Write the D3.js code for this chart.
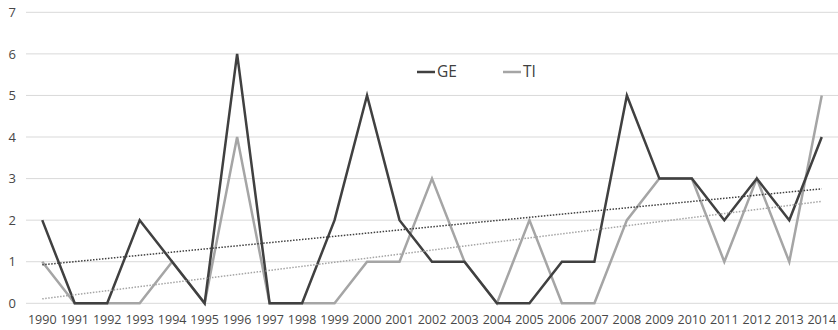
<!DOCTYPE html>
<html>
<head>
<meta charset="utf-8">
<script src="https://cdn.jsdelivr.net/npm/d3@7"></script>
<style>
  html, body { margin: 0; padding: 0; background: #fff; }
  svg { display: block; font-family: "Open Sans", "Noto Sans", sans-serif; }
</style>
</head>
<body>
<div id="chart"></div>
<script>
// Yearly counts for the two series
const years = ["1990","1991","1992","1993","1994","1995","1996","1997","1998","1999","2000","2001","2002",
               "2003","2004","2005","2006","2007","2008","2009","2010","2011","2012","2013","2014"];
const geValues = [2,0,0,2,1,0,6,0,0,2,5,2,1,1,0,0,1,1,5,3,3,2,3,2,4];
const tiValues = [1,0,0,0,1,0,4,0,0,0,1,1,3,1,0,2,0,0,2,3,3,1,3,1,5];
const yTicks = [0,1,2,3,4,5,6,7];

const series = [
  { name: "GE", values: geValues, color: "#404040", trendColor: "#404040" },
  { name: "TI", values: tiValues, color: "#a5a5a5", trendColor: "#a5a5a5" }
];

const W = 838, H = 330;
const plot = { left: 26, right: 838, top: 12.3, bottom: 303.3 };

const svg = d3.select("#chart").append("svg")
  .attr("width", W).attr("height", H);

const x = d3.scaleBand().domain(years).range([plot.left, plot.right]);
const y = d3.scaleLinear().domain([0, 7]).range([plot.bottom, plot.top]);
const cx = d => x(d) + x.bandwidth() / 2;

// Horizontal gridlines
svg.append("g").selectAll("line").data(yTicks).join("line")
  .attr("x1", plot.left).attr("x2", plot.right)
  .attr("y1", d => y(d)).attr("y2", d => y(d))
  .attr("stroke", "#d9d9d9").attr("stroke-width", 1);

// Y axis labels
const yAxis = svg.append("g")
  .attr("transform", `translate(${plot.left},0)`)
  .call(d3.axisLeft(y).tickValues(yTicks).tickSize(0).tickPadding(10).tickFormat(d3.format("d")));
yAxis.select(".domain").remove();
yAxis.selectAll("text").attr("fill", "#474747").style("font-size", "13px")
  .style("font-family", "'Open Sans', sans-serif");

// X axis labels
const xAxis = svg.append("g")
  .attr("transform", `translate(0,${plot.bottom})`)
  .call(d3.axisBottom(x).tickSize(0).tickPadding(12));
xAxis.select(".domain").remove();
xAxis.selectAll("text").attr("fill", "#474747").style("font-size", "12.5px")
  .style("font-family", "'Open Sans', sans-serif");

// Least-squares linear trend per series
function linearFit(vals) {
  const n = vals.length;
  const xs = d3.range(n);
  const mx = d3.mean(xs), my = d3.mean(vals);
  let sxy = 0, sxx = 0;
  xs.forEach((xi, i) => { sxy += (xi - mx) * (vals[i] - my); sxx += (xi - mx) ** 2; });
  const slope = sxy / sxx;
  return i => my + slope * (i - mx);
}

const line = d3.line()
  .x((d, i) => cx(years[i]))
  .y(d => y(d));

// Data lines (light series first so the dark one sits on top)
[series[1], series[0]].forEach(s => {
  svg.append("path")
    .datum(s.values)
    .attr("fill", "none")
    .attr("stroke", s.color)
    .attr("stroke-width", 2.5)
    .attr("stroke-linejoin", "miter")
    .attr("d", line);
});

// Dotted trend lines
series.forEach(s => {
  const f = linearFit(s.values);
  const n = s.values.length;
  svg.append("line")
    .attr("x1", cx(years[0])).attr("y1", y(f(0)))
    .attr("x2", cx(years[n - 1])).attr("y2", y(f(n - 1)))
    .attr("stroke", s.trendColor)
    .attr("stroke-width", 1.5)
    .attr("stroke-dasharray", "1.5,1.5");
});

// Legend
const legend = svg.append("g").attr("transform", "translate(417,72)");
const legendX = [0, 86];
series.forEach((s, i) => {
  const g = legend.append("g").attr("transform", `translate(${legendX[i]},0)`);
  g.append("line").attr("x1", 0).attr("x2", 18).attr("y1", 0).attr("y2", 0)
    .attr("stroke", s.color).attr("stroke-width", 2.5);
  g.append("text").attr("x", 20).attr("y", 0).attr("dy", "0.35em")
    .attr("fill", "#404040").style("font-size", "15.5px").text(s.name);
});
</script>
</body>
</html>
